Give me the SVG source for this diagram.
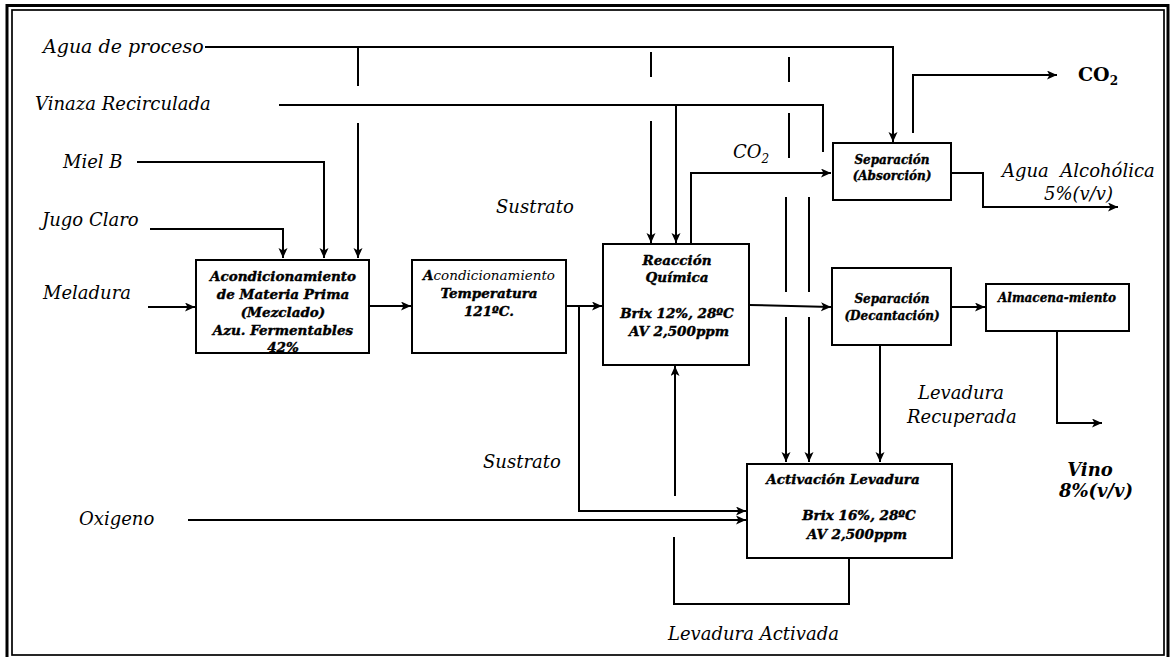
<svg xmlns="http://www.w3.org/2000/svg" width="1173" height="657" viewBox="0 0 1173 657">
<defs>
<marker id="arr" markerUnits="userSpaceOnUse" markerWidth="11" markerHeight="10" refX="10" refY="4.5" orient="auto">
<path d="M0,0 L10,4.5 L0,9 L2.5,4.5 z" fill="#000"/>
</marker>
<style>
.ln{fill:none;stroke:#000;stroke-width:2}
.ar{fill:none;stroke:#000;stroke-width:2;marker-end:url(#arr)}
.bx{fill:#fff;stroke:#000;stroke-width:2}
.lb{font-family:"DejaVu Serif","Liberation Serif",serif;font-style:italic;font-size:18px;fill:#000}
.bt{font-family:"DejaVu Serif","Liberation Serif",serif;font-style:italic;font-weight:bold;font-size:13.5px;fill:#000;stroke:#000;stroke-width:0.4;text-anchor:middle}
.bs{font-family:"DejaVu Serif","Liberation Serif",serif;font-style:italic;font-weight:bold;font-size:12px;fill:#000;stroke:#000;stroke-width:0.35;text-anchor:middle}
.nw{font-weight:normal;stroke:none}
</style>
</defs>
<rect width="1173" height="657" fill="#fff"/>
<g id="frame">
<rect x="7" y="5.5" width="1161" height="660" fill="none" stroke="#000" stroke-width="3"/>
<rect x="12" y="10" width="1152" height="645" fill="none" stroke="#000" stroke-width="1.7"/>
</g>
<g id="connectors">
<path class="ar" d="M205,47 H893 V142"/>
<path class="ln" d="M358,48 V86"/>
<path class="ar" d="M358,123 V258"/>
<path class="ln" d="M279,105 H823 V152"/>
<path class="ar" d="M676,105 V243"/>
<path class="ln" d="M651,52 V77"/>
<path class="ar" d="M651,121 V243"/>
<path class="ln" d="M789,57 V82"/>
<path class="ln" d="M789,113 V158"/>
<path class="ln" d="M786,197 V292"/>
<path class="ar" d="M786,317 V462"/>
<path class="ln" d="M809,197 V292"/>
<path class="ar" d="M809,317 V462"/>
<path class="ar" d="M137,162 H324 V258"/>
<path class="ar" d="M150,229 H283 V258"/>
<path class="ar" d="M148,307 H195"/>
<path class="ar" d="M369,306 H411"/>
<path class="ar" d="M566,306 H602"/>
<path class="ar" d="M579,306 V511 H746"/>
<path class="ar" d="M188,520 H746"/>
<path class="ar" d="M675,496 V366"/>
<path class="ln" d="M849,558 V604 H674 V537"/>
<path class="ar" d="M691,244 V173 H831"/>
<path class="ar" d="M913,133 V75 H1057"/>
<path class="ar" d="M951,173 H983 V207 H1118"/>
<path class="ar" d="M749,305 L831,307"/>
<path class="ar" d="M951,307 H985"/>
<path class="ar" d="M880,345 V462"/>
<path class="ar" d="M1057,331 V423 H1102"/>
</g>
<g id="labels">
<text class="lb" x="43" y="53" style="font-size:19px">Agua de proceso</text>
<text class="lb" x="35" y="110">Vinaza Recirculada</text>
<text class="lb" x="63" y="168">Miel B</text>
<text class="lb" x="42" y="226">Jugo Claro</text>
<text class="lb" x="43" y="299">Meladura</text>
<text class="lb" x="79" y="525">Oxigeno</text>
<text class="lb" x="496" y="213">Sustrato</text>
<text class="lb" x="483" y="468">Sustrato</text>
<text class="lb" x="733" y="158">CO<tspan style="font-size:12px" dy="5">2</tspan></text>
<text x="1078" y="81" font-family="DejaVu Serif, Liberation Serif, serif" font-weight="bold" font-size="19">CO<tspan font-size="12" dy="4">2</tspan></text>
<text class="lb" x="1002" y="177" xml:space="preserve">Agua  Alcohólica</text>
<text class="lb" x="1044" y="200">5%(v/v)</text>
<text class="lb" x="918" y="399">Levadura</text>
<text class="lb" x="907" y="423">Recuperada</text>
<text class="lb" x="668" y="640">Levadura Activada</text>
<text x="1090" y="476" font-family="DejaVu Serif, Liberation Serif, serif" font-style="italic" font-weight="bold" font-size="18" text-anchor="middle">Vino</text>
<text x="1096" y="497" font-family="DejaVu Serif, Liberation Serif, serif" font-style="italic" font-weight="bold" font-size="18" text-anchor="middle">8%(v/v)</text>
</g>
<g id="n-mezclado">
<rect class="bx" x="196" y="260" width="173" height="93"/>
<text class="bt" x="283" y="281">Acondicionamiento</text>
<text class="bt" x="283" y="299">de Materia Prima</text>
<text class="bt" x="283" y="317">(Mezclado)</text>
<text class="bt" x="283" y="335">Azu. Fermentables</text>
<text class="bt" x="283" y="352">42%</text>
</g>
<g id="n-temperatura">
<rect class="bx" x="412" y="260" width="154" height="93"/>
<text class="bt" x="489" y="280"><tspan>A</tspan><tspan class="nw">condicionamiento</tspan></text>
<text class="bt" x="489" y="298">Temperatura</text>
<text class="bt" x="489" y="316">121ºC.</text>
</g>
<g id="n-reaccion">
<rect class="bx" x="603" y="244" width="146" height="121"/>
<text class="bt" x="677" y="265">Reacción</text>
<text class="bt" x="677" y="282">Química</text>
<text class="bt" x="677" y="318">Brix 12%, 28ºC</text>
<text class="bt" x="679" y="336">AV 2,500ppm</text>
</g>
<g id="n-absorcion">
<rect class="bx" x="833" y="143" width="118" height="57"/>
<text class="bs" x="892" y="164">Separación</text>
<text class="bs" x="892" y="180">(Absorción)</text>
</g>
<g id="n-decantacion">
<rect class="bx" x="832" y="268" width="119" height="77"/>
<text class="bs" x="892" y="303">Separación</text>
<text class="bs" x="892" y="320">(Decantación)</text>
</g>
<g id="n-almacenamiento">
<rect class="bx" x="986" y="284" width="143" height="47"/>
<text class="bs" x="1057" y="302">Almacena-miento</text>
</g>
<g id="n-activacion">
<rect class="bx" x="747" y="464" width="205" height="94"/>
<text class="bt" x="843" y="484">Activación Levadura</text>
<text class="bt" x="859" y="520">Brix 16%, 28ºC</text>
<text class="bt" x="857" y="539">AV 2,500ppm</text>
</g>
</svg>
